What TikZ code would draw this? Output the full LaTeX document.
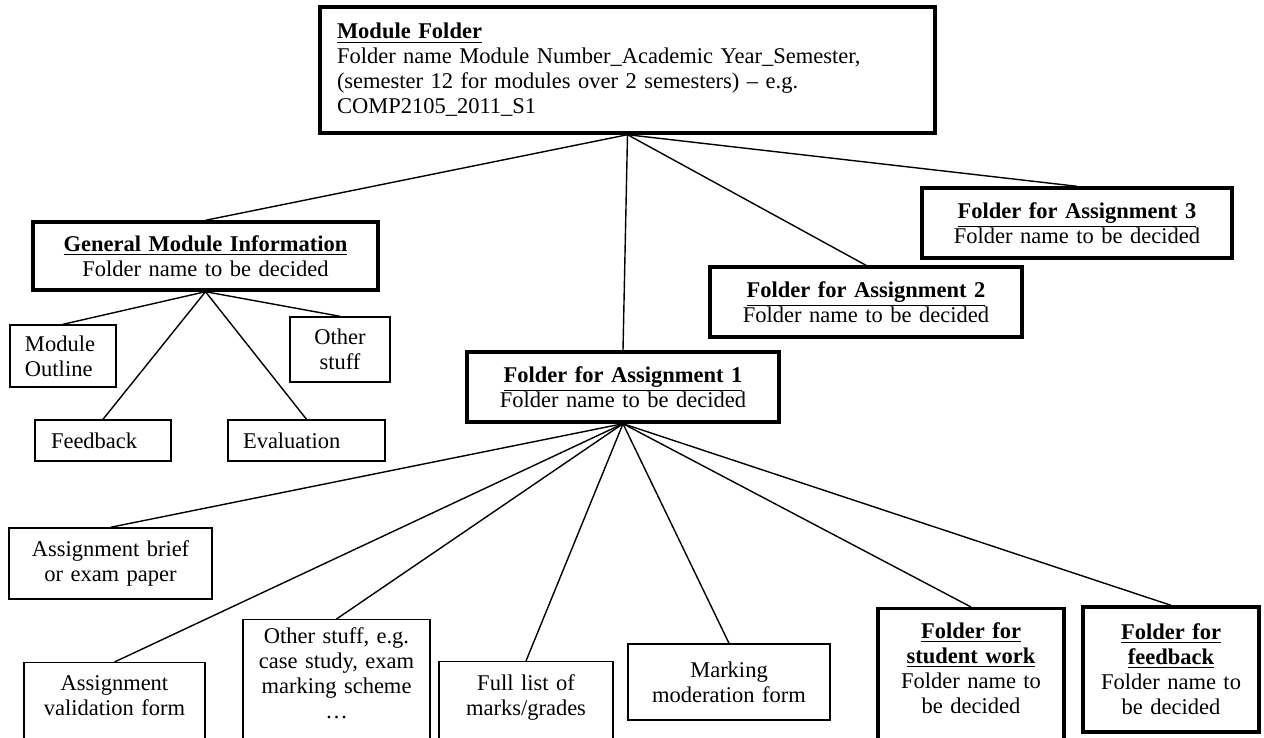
\documentclass[tikz,border=0pt]{standalone}
\usepackage{fontspec}
\setmainfont{Liberation Serif}

\tikzset{
  box/.style={draw, line width=0.7pt, inner sep=0pt, align=center,
    font=\fontsize{11.25pt}{12.5pt}\selectfont},
  folder/.style={box, line width=1.7pt},
  cutbox/.style={anchor=north, text height=14pt, text depth=70pt},
  link/.style={line width=0.7pt},
}
\newcommand{\ftitle}[1]{\underline{\textbf{#1}}}

\begin{document}
\begin{tikzpicture}[x=0.5pt, y=-0.5pt]
  \useasboundingbox (0,0) rectangle (1264,738);
  % top level
  \node[folder, text width=290.5pt, inner xsep=8.5pt, minimum height=63pt, align=left] (root) at (627.5,70)
    {\ftitle{Module Folder}\\ Folder name Module Number\_Academic Year\_Semester,\\ (semester 12 for modules over 2 semesters) -- e.g.\\ COMP2105\_2011\_S1};
  \node[folder, text width=172.5pt, minimum height=34pt] (gmi) at (205.5,256)
    {\ftitle{General Module Information}\\ Folder name to be decided};
  \node[folder, text width=156pt, minimum height=35pt] (a1) at (623,387)
    {\ftitle{Folder for Assignment 1}\\ Folder name to be decided};
  \node[folder, text width=156pt, minimum height=35pt] (a2) at (866,302)
    {\ftitle{Folder for Assignment 2}\\ Folder name to be decided};
  \node[folder, text width=155pt, minimum height=35pt] (a3) at (1077,223)
    {\ftitle{Folder for Assignment 3}\\ Folder name to be decided};
  % general module information
  \node[box, text width=38pt, inner xsep=7.5pt, minimum height=31pt, align=left] (outline) at (63,356) {Module\\ Outline};
  \node[box, text width=50pt, minimum height=32.5pt] (other) at (340,349.5) {Other\\ stuff};
  \node[box, text width=52pt, inner xsep=8pt, minimum height=20.5pt, align=left] (feedback) at (103,440.5) {Feedback};
  \node[box, text width=63.5pt, inner xsep=7.5pt, minimum height=20.5pt, align=left] (evaluation) at (306.5,440.5) {Evaluation};
  % assignment 1
  \node[box, text width=101.5pt, minimum height=35.5pt] (brief) at (110.5,563.5) {Assignment brief\\ or exam paper};
  \node[box, cutbox, text width=90.5pt] (valid) at (114.5,662) {Assignment\\ validation form};
  \node[box, cutbox, text width=93.5pt, text height=12pt] (extra) at (336.5,619)
    {Other stuff, e.g.\\ case study, exam\\ marking scheme\\ \dots};
  \node[box, cutbox, text width=87pt, text height=14.5pt] (marks) at (526,661) {Full list of\\ marks/grades};
  \node[box, text width=101pt, minimum height=38pt] (moderation) at (729,682) {Marking\\ moderation form};
  \node[folder, cutbox, text width=93pt, text height=15pt] (work) at (971,607)
    {\ftitle{Folder for}\\ \ftitle{student work}\\ Folder name to\\ be decided};
  \node[folder, text width=88pt, minimum height=62.5pt] (fbfolder) at (1171,669.5)
    {\ftitle{Folder for}\\ \ftitle{feedback}\\ Folder name to\\ be decided};

  \draw[link] (root.south) -- (gmi.north);
  \draw[link] (root.south) -- (a1.north);
  \draw[link] (root.south) -- (a2.north);
  \draw[link] (root.south) -- (a3.north);
  \draw[link] (gmi.south) -- (outline.north);
  \draw[link] (gmi.south) -- (feedback.north);
  \draw[link] (gmi.south) -- (evaluation.north);
  \draw[link] (gmi.south) -- (other.north);
  \draw[link] (a1.south) -- (brief.north);
  \draw[link] (a1.south) -- (valid.north);
  \draw[link] (a1.south) -- (extra.north);
  \draw[link] (a1.south) -- (marks.north);
  \draw[link] (a1.south) -- (moderation.north);
  \draw[link] (a1.south) -- (work.north);
  \draw[link] (a1.south) -- (fbfolder.north);
\end{tikzpicture}
\end{document}
